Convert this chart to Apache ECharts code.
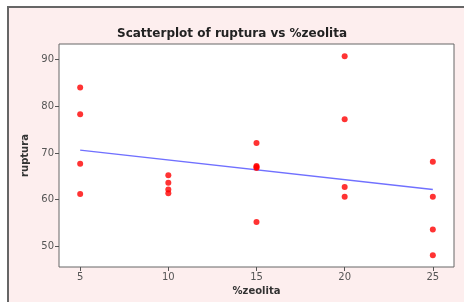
<!DOCTYPE html>
<html>
<head>
<meta charset="utf-8">
<script src="https://cdn.jsdelivr.net/npm/echarts@6/dist/echarts.min.js"></script>
<style>
html, body { margin: 0; padding: 0; background: #fff; }
#chart { width: 464px; height: 302px; }
</style>
</head>
<body>
<div id="chart"></div>
<script>
// values
var zeolita = [5, 5, 5, 5, 10, 10, 10, 10, 15, 15, 15, 15, 15, 20, 20, 20, 20, 25, 25, 25, 25];
var ruptura = [84.0, 78.3, 67.7, 61.2, 65.2, 63.6, 62.2, 61.4, 72.1, 67.2, 67.0, 66.8, 55.2, 90.7, 77.2, 62.7, 60.6, 68.1, 60.6, 53.6, 48.1];
var fitX = [5, 25];
var fitY = [70.6, 62.2];
var xTicks = [5, 10, 15, 20, 25];
var yTicks = [50, 60, 70, 80, 90];

var points = zeolita.map(function (x, i) { return [x, ruptura[i]]; });
var fitLine = fitX.map(function (x, i) { return [x, fitY[i]]; });

var chart = echarts.init(document.getElementById("chart"));
var option = {
    backgroundColor: "#fff",
    animation: false,
    graphic: [
        {
            type: "rect",
            z: -10,
            shape: { x: 8, y: 7, width: 600, height: 400 },
            style: { fill: "#fdeeee" }
        },
        {
            type: "polyline",
            z: -9,
            shape: { points: [[8, 400], [8, 7], [600, 7]] },
            style: { stroke: "#666", lineWidth: 2, fill: null }
        }
    ],
    title: {
        text: "Scatterplot of ruptura vs %zeolita",
        left: "center",
        top: 23,
        textStyle: { fontSize: 12, fontWeight: "bold", color: "#222", fontFamily: "DejaVu Sans" }
    },
    grid: {
        left: 59,
        top: 44,
        right: 10,
        bottom: 35,
        show: true,
        backgroundColor: "#fff",
        borderColor: "#666",
        borderWidth: 1
    },
    xAxis: {
        type: "value",
        min: 3.8,
        max: 26.2,
        name: "%zeolita",
        nameLocation: "middle",
        nameGap: 19,
        nameTextStyle: { fontSize: 10, fontWeight: "bold", color: "#333", fontFamily: "DejaVu Sans" },
        splitLine: { show: false },
        axisLine: { show: false },
        axisTick: { show: true, length: 4, customValues: xTicks, lineStyle: { color: "#555" } },
        axisLabel: { customValues: xTicks, fontSize: 10, color: "#555", margin: 5, fontFamily: "DejaVu Sans" }
    },
    yAxis: {
        type: "value",
        min: 45.6,
        max: 93.3,
        name: "ruptura",
        nameLocation: "middle",
        nameGap: 22,
        nameTextStyle: { fontSize: 10, fontWeight: "bold", color: "#333", fontFamily: "DejaVu Sans" },
        splitLine: { show: false },
        axisLine: { show: false },
        axisTick: { show: true, length: 4, customValues: yTicks, lineStyle: { color: "#555" } },
        axisLabel: { customValues: yTicks, fontSize: 10, color: "#555", margin: 5, fontFamily: "DejaVu Sans" }
    },
    series: [
        {
            type: "line",
            data: fitLine,
            symbol: "none",
            lineStyle: { color: "#7070ff", width: 1.5 },
            z: 1
        },
        {
            type: "scatter",
            data: points,
            symbol: "circle",
            symbolSize: 6,
            itemStyle: { color: "#ff0000" },
            z: 2
        }
    ]
};
chart.setOption(option);

window.onresize = function () {
    chart.resize();
};
</script>
</body>
</html>
